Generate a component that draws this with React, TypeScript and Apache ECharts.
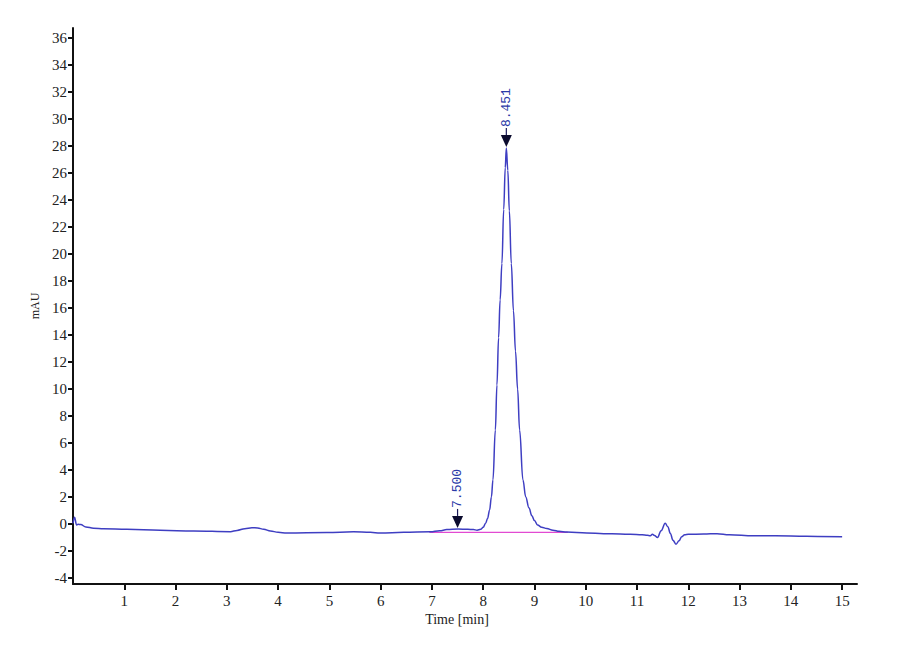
import * as echarts from "echarts";
import { useEffect, useRef } from "react";

// chromatogram trace
const times = [
  0, 0.03, 0.07, 0.1, 0.15, 0.25, 0.4, 0.6, 1.05, 1.7, 2.35, 3.07, 3.2, 3.35, 3.49, 3.6, 3.72, 3.85, 4.0,
  4.17, 4.95, 5.47, 5.8, 5.99, 6.45, 6.97, 7.15, 7.29, 7.51, 7.7, 7.81, 7.88, 7.95, 8.0, 8.047, 8.085,
  8.125, 8.16, 8.19, 8.237, 8.268, 8.3, 8.33, 8.365, 8.4, 8.43, 8.451, 8.48, 8.51, 8.548, 8.59, 8.63,
  8.671, 8.71, 8.775, 8.83, 8.892, 8.95, 9.0, 9.06, 9.14, 9.24, 9.36, 9.48, 9.63, 10.02, 10.35, 10.67,
  10.87, 11.1, 11.2, 11.26, 11.3, 11.34, 11.4, 11.47, 11.55, 11.6, 11.65, 11.7, 11.76, 11.82, 11.87,
  11.93, 12.0, 12.3, 12.56, 12.8, 13.27, 13.7, 14.3, 15.0
];
const mAU = [
  0.05, 0.5, -0.07, -0.02, -0.05, -0.22, -0.32, -0.36, -0.4, -0.47, -0.52, -0.57, -0.48, -0.35, -0.28,
  -0.3, -0.4, -0.52, -0.62, -0.67, -0.64, -0.58, -0.62, -0.67, -0.62, -0.58, -0.5, -0.42, -0.37, -0.4,
  -0.42, -0.46, -0.4, -0.25, 0.05, 0.4, 1.04, 2.0, 3.26, 6.96, 10.3, 13.8, 16.6, 19.3, 23.3, 26.4, 27.85,
  26.2, 23.2, 19.3, 15.8, 12.8, 10.0, 6.96, 3.26, 2.0, 1.2, 0.6, 0.25, -0.08, -0.24, -0.34, -0.46, -0.55,
  -0.6, -0.67, -0.72, -0.74, -0.77, -0.8, -0.84, -0.87, -0.77, -0.85, -1.0, -0.5, 0.05, -0.2, -0.7, -1.2,
  -1.5, -1.25, -0.94, -0.8, -0.77, -0.75, -0.72, -0.8, -0.88, -0.88, -0.92, -0.94
];

// integration baseline
const baselineTimes = [6.95, 9.65];
const baselineValues = [-0.63, -0.63];

// peak markers
const peakTimes = [7.5, 8.451];
const peakHeights = [-0.37, 27.85];
const peakLabels = ["7.500", "8.451"];

const yTicks = [-4, -2, 0, 2, 4, 6, 8, 10, 12, 14, 16, 18, 20, 22, 24, 26, 28, 30, 32, 34, 36];
const xTicks = [1, 2, 3, 4, 5, 6, 7, 8, 9, 10, 11, 12, 13, 14, 15];

const axisFont = "'Liberation Serif', 'Times New Roman', serif";

function buildOption(): echarts.EChartsOption {
  return {
    animation: false,
    backgroundColor: "#ffffff",
    grid: { left: 73, right: 43, top: 28, bottom: 76 },
    xAxis: {
      type: "value",
      min: 0,
      max: 15.29,
      name: "Time [min]",
      nameLocation: "middle",
      nameGap: 21,
      nameTextStyle: { fontFamily: axisFont, fontSize: 14, color: "#222", padding: [0, 16, 0, 0] },
      axisLine: { onZero: false, lineStyle: { color: "#111", width: 2 } },
      axisTick: { customValues: xTicks, length: 6, lineStyle: { color: "#111", width: 2 } },
      axisLabel: { customValues: xTicks, margin: 9, fontFamily: axisFont, fontSize: 15, color: "#222" },
      splitLine: { show: false }
    },
    yAxis: {
      type: "value",
      min: -4.45,
      max: 36.75,
      name: "mAU",
      nameLocation: "middle",
      nameRotate: 90,
      nameGap: 27,
      nameTextStyle: { fontFamily: axisFont, fontSize: 12, color: "#222" },
      axisLine: { show: true, onZero: false, lineStyle: { color: "#111", width: 2 } },
      axisTick: { customValues: yTicks, length: 5, lineStyle: { color: "#111", width: 2 } },
      axisLabel: { customValues: yTicks, margin: 6, fontFamily: axisFont, fontSize: 15, color: "#222" },
      splitLine: { show: false }
    },
    series: [
      {
        type: "line",
        data: baselineTimes.map((t, i) => [t, baselineValues[i]]),
        showSymbol: false,
        lineStyle: { color: "#e24ad2", width: 1.2 },
        z: 2
      },
      {
        type: "line",
        data: times.map((t, i) => [t, mAU[i]]),
        showSymbol: false,
        smooth: 0.4,
        smoothMonotone: "x",
        lineStyle: { color: "#3e3ec2", width: 1.5 },
        z: 3
      },
      {
        type: "custom",
        data: peakTimes.map((t, i) => [t, peakHeights[i]]),
        z: 4,
        renderItem: (params: any, api: any) => {
          const p = api.coord([api.value(0), api.value(1)]);
          const x = p[0];
          const tip = p[1] - 1;
          return {
            type: "group",
            children: [
              {
                type: "polygon",
                shape: { points: [[x - 5.5, tip - 12], [x + 5.5, tip - 12], [x, tip]] },
                style: { fill: "#0b0b2e" }
              },
              {
                type: "line",
                shape: { x1: x, y1: tip - 12, x2: x, y2: tip - 19 },
                style: { stroke: "#1a1a5a", lineWidth: 1.2 }
              },
              {
                type: "text",
                x: x,
                y: tip - 20,
                rotation: Math.PI / 2,
                style: {
                  text: peakLabels[params.dataIndex],
                  align: "left",
                  verticalAlign: "middle",
                  fill: "#2b3aa8",
                  font: "13px 'Liberation Mono', 'DejaVu Sans Mono', monospace"
                }
              }
            ]
          };
        }
      }
    ]
  };
}

export default function App() {
  const ref = useRef<HTMLDivElement | null>(null);

  useEffect(() => {
    if (!ref.current) {
      return;
    }
    const chart = echarts.init(ref.current, undefined, { renderer: "svg" });
    chart.setOption(buildOption());
    return () => chart.dispose();
  }, []);

  return <div ref={ref} style={{ position: "fixed", left: 0, top: 0, width: 900, height: 660 }} />;
}
